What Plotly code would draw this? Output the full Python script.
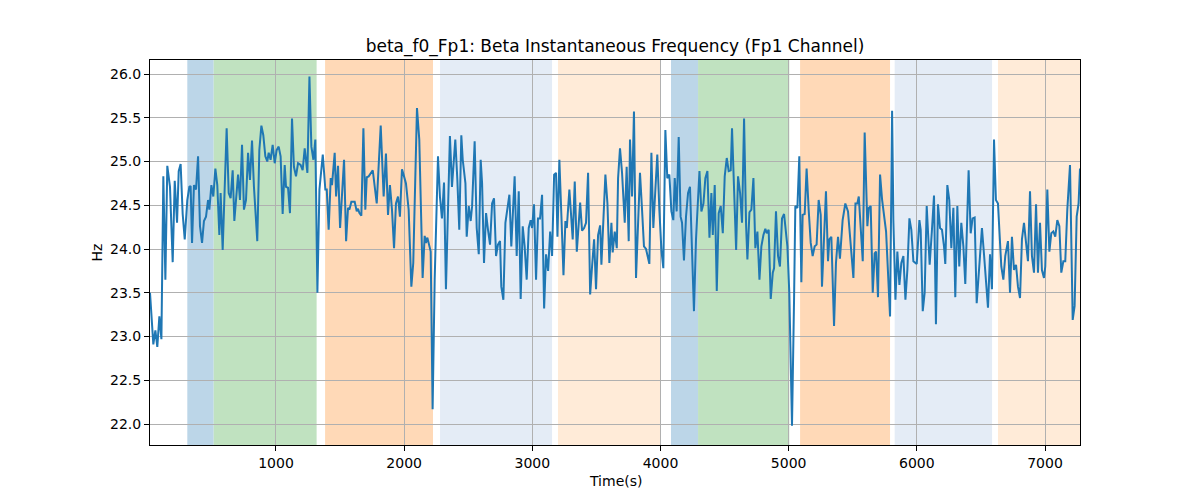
import plotly.graph_objects as go

# Time (s) and instantaneous beta frequency (Hz)
time_s = [
    17, 43, 59, 74, 90, 106, 121, 137, 152, 173, 194, 210, 228, 241, 256, 272, 288, 308, 324, 334,
    345, 360, 376, 392, 407, 423, 438, 454, 470, 480, 496, 511, 527, 542, 558, 568, 584, 615,
    631, 646, 662, 675, 704, 719, 735, 750, 766, 782, 797, 813, 828, 854, 870, 886, 901, 917,
    932, 943, 958, 974, 990, 1005, 1021, 1036, 1052, 1068, 1078, 1094, 1109, 1125, 1140, 1156,
    1172, 1192, 1208, 1224,
    1245, 1261, 1276, 1292, 1307, 1323, 1339, 1365, 1385, 1396, 1411, 1427, 1437, 1458, 1469,
    1484, 1500, 1531, 1547, 1562, 1573, 1588, 1614, 1630, 1640, 1651, 1666, 1682, 1697, 1708,
    1723, 1734, 1755, 1786, 1817, 1840,
    1858, 1874, 1889, 1905, 1921, 1936, 1952, 1967, 1983, 1999, 2014, 2035, 2056, 2071, 2100,
    2118, 2144, 2160, 2170, 2181, 2191, 2207, 2222, 2238, 2264, 2279, 2295, 2311, 2326, 2357,
    2373, 2399, 2415, 2430, 2446,
    2457, 2478, 2488, 2504, 2519, 2530, 2550, 2566, 2582, 2597, 2608, 2623, 2639, 2654, 2670,
    2686, 2701, 2717, 2732, 2748, 2758, 2774, 2790, 2821, 2836, 2862, 2878, 2894, 2909, 2925,
    2940, 2956, 2972, 2987, 2998, 3013, 3029, 3044, 3060,
    3076, 3092, 3107, 3123, 3139, 3154, 3170, 3185, 3196, 3211, 3227, 3243, 3258, 3269, 3289,
    3315, 3331, 3347, 3373, 3388, 3404, 3419, 3435, 3451, 3466, 3482, 3497, 3513, 3529, 3539,
    3570, 3586, 3601, 3617, 3627, 3643, 3659, 3669,
    3684, 3700, 3721, 3736, 3752, 3762, 3778, 3793, 3809, 3825, 3840, 3856, 3871, 3887, 3913,
    3929, 3944, 3960, 3975, 3991, 4007, 4022, 4038, 4053, 4069, 4085, 4100, 4111, 4126, 4142,
    4157, 4168, 4183, 4199, 4215, 4230, 4246, 4261, 4277,
    4304, 4319, 4335, 4350, 4366, 4382, 4397, 4408, 4423, 4439, 4454, 4470, 4486, 4501, 4517,
    4532, 4548, 4558, 4574, 4590, 4605, 4621, 4636, 4652, 4668, 4678, 4694, 4709, 4725, 4740,
    4756, 4772, 4787, 4803, 4818, 4829, 4844, 4860, 4876,
    4886, 4901, 4917, 4932, 4948, 4964, 4990, 5005, 5026, 5042, 5052, 5068, 5083, 5099, 5109,
    5125, 5140, 5156, 5172, 5187, 5203, 5218, 5234, 5250, 5260, 5291, 5307, 5317, 5333, 5354,
    5369, 5385, 5400, 5421, 5442, 5463, 5478,
    5505, 5521, 5536, 5547, 5562, 5578, 5593, 5614, 5625, 5640, 5656, 5671, 5682, 5697, 5713,
    5729, 5760, 5775, 5791, 5807, 5817, 5833, 5848, 5864, 5879, 5895, 5911, 5926, 5942, 5957,
    5973, 5989, 5999, 6020, 6030, 6046, 6061, 6077,
    6100, 6118, 6134, 6149, 6165, 6181, 6196, 6212, 6222, 6238, 6253, 6269, 6285, 6300, 6316,
    6331, 6347, 6363, 6378, 6404, 6420, 6435, 6451, 6467, 6482, 6508, 6524, 6539, 6555, 6571,
    6586, 6602, 6617, 6633, 6659, 6675, 6690, 6711,
    6727, 6742, 6758, 6774, 6789, 6805, 6820, 6836, 6852, 6867, 6883, 6898, 6914, 6930, 6945,
    6961, 6976, 6992, 7002, 7018, 7034, 7049, 7065, 7080, 7096, 7112, 7127, 7143, 7158, 7174,
    7195, 7216, 7231, 7247, 7262, 7273,
]

freq_hz = [
    23.50, 22.91, 23.07, 22.88, 23.23, 22.97, 24.83, 23.65, 24.95, 24.71, 23.85, 24.78, 24.30, 24.89,
    24.97, 24.40, 24.11, 24.56, 24.71, 24.72, 24.07, 24.73, 24.68, 25.06, 24.26, 24.07, 24.32, 24.37,
    24.56, 24.45, 24.73, 24.60, 24.92, 24.73, 24.16, 24.64, 23.99, 25.38,
    24.64, 24.58, 24.90, 24.32, 24.85, 24.56, 25.19, 24.45, 24.56, 25.10, 24.79, 25.24, 24.71, 24.09,
    25.13, 25.41, 25.30, 25.06, 25.00, 25.10, 25.02, 25.19, 24.98, 25.13, 25.17, 25.06, 24.40, 24.96,
    24.71, 24.70, 24.41, 25.49, 24.94, 24.83, 24.98, 24.96, 24.90, 25.15,
    24.87, 25.97, 25.17, 25.02, 25.25, 23.50, 24.68, 25.08, 24.68, 24.68, 24.22, 24.81, 24.73, 25.10,
    24.60, 24.95, 24.24, 25.02, 24.09, 24.47, 24.45, 24.54, 24.54, 24.43, 24.46, 24.41, 24.38, 25.38,
    24.45, 24.82, 24.83, 24.85, 24.90, 24.52, 25.41, 24.60,
    25.09, 24.39, 24.73, 24.45, 24.01, 24.52, 24.60, 24.37, 24.91, 24.83, 24.75, 24.45, 23.57, 23.84,
    25.61, 25.25, 23.67, 24.15, 24.07, 24.13, 24.08, 23.97, 22.17, 23.65, 25.06, 24.60, 24.35, 24.76,
    23.54, 25.29, 24.71, 25.25, 24.79, 24.22, 25.30,
    25.02, 24.75, 24.14, 24.49, 24.32, 24.49, 25.23, 24.24, 23.94, 25.02, 24.75, 23.84, 24.41, 24.22,
    24.05, 24.52, 24.58, 23.92, 24.05, 24.09, 23.57, 23.42, 24.30, 24.62, 24.03, 24.83, 23.92, 24.66,
    23.43, 24.26, 24.03, 23.65, 24.24, 24.33, 24.24, 24.51, 23.65, 24.35, 24.35,
    24.62, 23.32, 23.94, 23.75, 24.20, 23.92, 24.85, 24.87, 24.14, 25.02, 24.37, 23.70, 24.32, 24.24,
    24.68, 24.11, 24.77, 23.97, 24.53, 24.21, 24.24, 24.30, 24.87, 23.48, 23.80, 24.11, 23.54, 24.16,
    24.27, 23.82, 24.85, 24.52, 23.84, 24.30, 23.96, 24.20, 24.01, 24.81,
    25.15, 24.87, 24.30, 24.94, 24.09, 25.25, 24.60, 25.57, 23.67, 24.41, 24.87, 24.45, 24.03, 24.00,
    23.83, 25.10, 24.24, 24.68, 25.08, 24.45, 23.99, 23.78, 25.36, 24.81, 24.85, 24.43, 24.33, 24.81,
    24.43, 25.28, 24.37, 24.30, 23.87, 24.37, 24.64, 24.71, 24.03, 23.29, 24.11,
    24.89, 24.43, 24.52, 24.81, 24.89, 24.13, 24.64, 24.16, 24.73, 23.52, 24.41, 24.49, 24.18, 24.83,
    25.04, 24.89, 24.90, 25.38, 24.79, 23.99, 24.83, 24.64, 24.30, 25.49, 24.26, 23.88, 24.42, 24.45,
    24.81, 24.01, 24.20, 23.65, 24.03, 24.16, 24.23, 24.18, 24.22, 23.43, 23.73,
    23.78, 24.43, 23.92, 23.80, 24.35, 24.40, 24.03, 23.50, 21.98, 23.42, 24.49, 24.47, 25.06, 23.62,
    24.39, 24.40, 24.92, 24.45, 24.07, 23.92, 24.03, 24.05, 24.56, 24.39, 23.57, 24.66, 23.86, 24.11,
    24.14, 23.12, 23.84, 24.14, 23.89, 24.33, 24.52, 24.43, 24.14,
    23.67, 24.52, 24.52, 24.60, 24.26, 23.86, 25.33, 24.26, 24.47, 24.49, 23.50, 23.95, 23.97, 23.45,
    24.85, 24.56, 24.20, 23.65, 23.23, 25.58, 24.33, 23.42, 23.97, 23.59, 23.84, 23.92, 23.42, 23.76,
    24.35, 24.22, 23.86, 23.84, 23.83, 24.33, 24.22, 23.29, 23.50, 24.49,
    23.82, 24.22, 24.61, 23.14, 24.51, 24.24, 24.22, 24.03, 23.83, 24.73, 24.56, 24.01, 24.47, 23.45,
    24.49, 23.80, 24.30, 24.03, 23.60, 24.90, 24.18, 24.35, 24.36, 23.38, 23.73, 24.24, 23.94, 23.65,
    23.33, 23.94, 23.54, 25.25, 24.56, 24.52, 23.80, 23.65, 23.92, 24.09,
    23.50, 24.14, 23.76, 23.82, 23.57, 23.44, 24.11, 24.30, 24.03, 23.86, 24.66, 23.92, 23.73, 24.51,
    23.73, 24.30, 23.76, 23.67, 23.80, 24.68, 23.97, 24.18, 24.20, 24.14, 24.33, 24.26, 23.73, 23.86,
    23.86, 24.45, 24.96, 23.19, 23.35, 24.37, 24.52, 24.92,
]

# Shaded segments (start, end, kind)
span_start = [308, 514, 1383, 2280, 3200, 4082, 4293, 5089, 5827, 6633]
span_end = [514, 1317, 2225, 3154, 4002, 4293, 5005, 5791, 6587, 7300]
span_kind = ["blue", "green", "orange", "lightblue", "lightorange",
             "blue", "green", "orange", "lightblue", "lightorange"]

x_ticks = [1000, 2000, 3000, 4000, 5000, 6000, 7000]
y_ticks = [22.0, 22.5, 23.0, 23.5, 24.0, 24.5, 25.0, 25.5, 26.0]

kind_color = {
    "blue": "#bcd6e8",
    "green": "#c0e2c0",
    "orange": "#ffd9b7",
    "lightblue": "#e4ecf6",
    "lightorange": "#ffebd8",
}

fig = go.Figure()

shapes = []
for s, e, k in zip(span_start, span_end, span_kind):
    shapes.append(dict(type="rect", xref="x", yref="paper", x0=s, x1=e, y0=0, y1=1,
                       fillcolor=kind_color[k], line=dict(width=0), layer="below"))

fig.add_trace(go.Scatter(x=time_s, y=freq_hz, mode="lines",
                         line=dict(color="#1f77b4", width=2), showlegend=False,
                         hoverinfo="x+y"))

font_family = "DejaVu Sans"
fig.update_layout(
    width=1200, height=500,
    margin=dict(l=142, r=128, t=52, b=63),
    paper_bgcolor="white", plot_bgcolor="white",
    font=dict(family=font_family, size=14, color="black"),
    shapes=shapes,
    title=dict(text="beta_f0_Fp1: Beta Instantaneous Frequency (Fp1 Channel)",
               x=0.5, xref="paper", xanchor="center",
               y=1 - 38 / 500, yref="container", yanchor="middle",
               font=dict(family=font_family, size=17, color="black")),
    annotations=[
        dict(text="Time(s)", x=0.5, y=-0.0935, xref="paper", yref="paper",
             showarrow=False, xanchor="center", yanchor="middle",
             font=dict(family=font_family, size=14, color="black")),
        dict(text="Hz", x=-0.057, y=0.5, xref="paper", yref="paper", textangle=-90,
             showarrow=False, xanchor="center", yanchor="middle",
             font=dict(family=font_family, size=14, color="black")),
    ],
)

fig.update_xaxes(range=[17, 7273], tickvals=x_ticks, ticktext=[str(v) for v in x_ticks],
                 showgrid=True, gridcolor="#b0b0b0", gridwidth=1.1,
                 showline=True, linecolor="black", linewidth=1.1, mirror=True,
                 ticks="outside", ticklen=5, tickwidth=1.1, tickcolor="black",
                 zeroline=False, tickfont=dict(size=14))
fig.update_yaxes(range=[21.76, 26.16], tickvals=y_ticks,
                 ticktext=[f"{v:.1f}" for v in y_ticks],
                 showgrid=True, gridcolor="#b0b0b0", gridwidth=1.1,
                 showline=True, linecolor="black", linewidth=1.1, mirror=True,
                 ticks="outside", ticklen=5, tickwidth=1.1, tickcolor="black",
                 zeroline=False, tickfont=dict(size=14))

fig.write_html("out.html")
